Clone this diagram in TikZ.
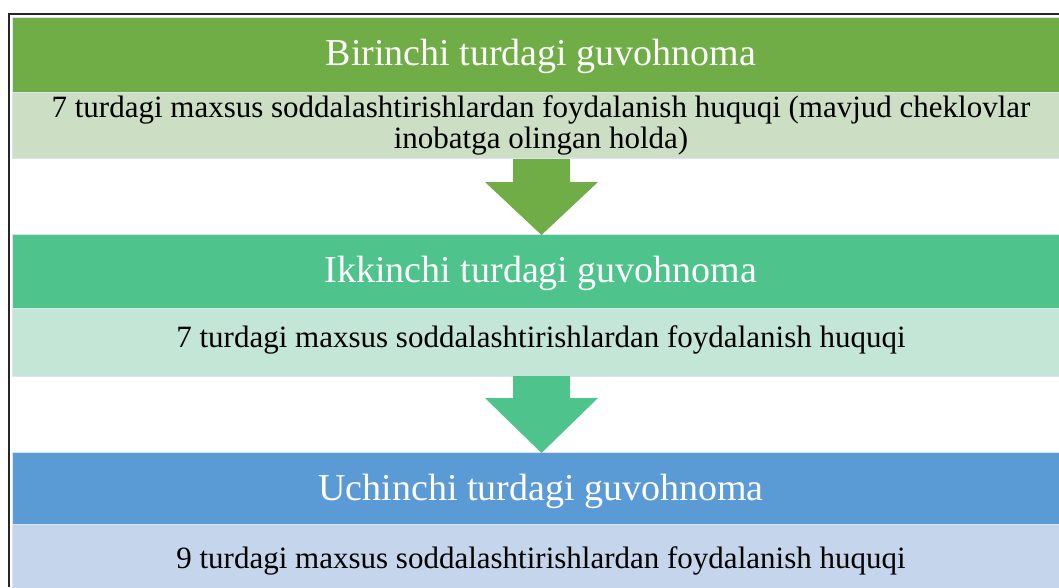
\documentclass[tikz,border=0pt]{standalone}
\usepackage{fontspec}
\setmainfont{Liberation Serif}
\definecolor{gA}{HTML}{70AD47}
\definecolor{gAl}{HTML}{CCDEC3}
\definecolor{gB}{HTML}{4EC48C}
\definecolor{gBl}{HTML}{C3E6D6}
\definecolor{bC}{HTML}{5B9BD5}
\definecolor{bCl}{HTML}{C5D5EC}
\definecolor{edgeline}{HTML}{DCE4F2}
\begin{document}
\begin{tikzpicture}[x=1pt,y=-1pt,
  band/.style={rectangle, inner sep=0pt, minimum width=1047pt, draw=edgeline, line width=0.7pt},
  hdtext/.style={anchor=base, inner sep=0pt, text=white, font=\fontsize{38}{40}\selectfont},
  bdtext/.style={anchor=base, inner sep=0pt, text=black, font=\fontsize{31}{31}\selectfont},
  frame/.style={draw=black!85, line width=1.5pt}
]
\useasboundingbox (0,0) rectangle (1059,587);
\fill[white] (0,0) rectangle (1059,587);
% bands
\node[band, fill=gA, minimum height=75pt] (h1) at (535.5,54.5) {};
\node[band, fill=gAl, minimum height=66pt] (b1) at (535.5,125) {};
\node[band, fill=gB, minimum height=74pt] (h2) at (535.5,271) {};
\node[band, fill=gBl, minimum height=68pt] (b2) at (535.5,342) {};
\node[band, fill=bC, minimum height=72pt] (h3) at (535.5,488) {};
\node[band, fill=bCl, minimum height=70pt] (b3) at (535.5,559) {};
% texts
\node[hdtext] (t1) at (541,65) {Birinchi turdagi guvohnoma};
\node[bdtext] (s1a) at (541,117) {7 turdagi maxsus soddalashtirishlardan foydalanish huquqi (mavjud cheklovlar};
\node[bdtext] (s1b) at (541,148) {inobatga olingan holda)};
\node[hdtext] (t2) at (541,282) {Ikkinchi turdagi guvohnoma};
\node[bdtext] (s2) at (541,347) {7 turdagi maxsus soddalashtirishlardan foydalanish huquqi};
\node[hdtext] (t3) at (541,500) {Uchinchi turdagi guvohnoma};
\node[bdtext] (s3) at (541,568) {9 turdagi maxsus soddalashtirishlardan foydalanish huquqi};
% arrows
\fill[gA] (513,159) -- (570,159) -- (570,182) -- (598,182) -- (541.5,235) -- (485,182) -- (513,182) -- cycle;
\fill[gB] (513,376) -- (570,376) -- (570,398) -- (598,398) -- (541.5,453) -- (485,398) -- (513,398) -- cycle;
% frame
\draw[frame] (9,587) -- (9,14) -- (1059,14);
\end{tikzpicture}
\end{document}
